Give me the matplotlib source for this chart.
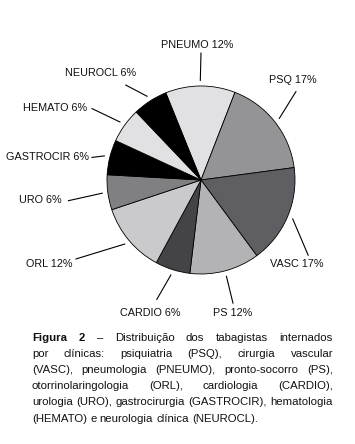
import numpy as np
import matplotlib.pyplot as plt
from matplotlib.transforms import IdentityTransform

# data, clockwise from the top
clinics = ["PNEUMO", "PSQ", "VASC", "PS", "CARDIO", "ORL", "URO", "GASTROCIR", "HEMATO", "NEUROCL"]
shares = [12, 17, 17, 12, 6, 12, 6, 6, 6, 6]
colors = ["#e1e1e3", "#949496", "#5f5f63", "#b3b3b5", "#444446",
          "#cacacc", "#808082", "#000000", "#e1e1e3", "#000000"]

# label layout (pie units: radius = 1)
label_pos = [(-0.04, 1.44), (0.98, 1.06), (1.02, -0.89), (0.34, -1.41), (-0.54, -1.41),
             (-1.61, -0.89), (-1.71, -0.21), (-1.63, 0.24), (-1.55, 0.77), (-1.07, 1.14)]
line_end = [(0.0, 1.35), (1.01, 0.94), (1.14, -0.80), (0.34, -1.31), (-0.47, -1.27),
            (-1.33, -0.84), (-1.41, -0.22), (-1.16, 0.24), (-1.16, 0.76), (-0.80, 1.01)]

caption = [
    "Figura 2 – Distribuição dos tabagistas internados",
    "por clínicas: psiquiatria (PSQ), cirurgia vascular",
    "(VASC), pneumologia (PNEUMO), pronto-socorro (PS),",
    "otorrinolaringologia (ORL), cardiologia (CARDIO),",
    "urologia (URO), gastrocirurgia (GASTROCIR), hematologia",
    "(HEMATO) e neurologia clínica (NEUROCL).",
]

W, H = 355, 444
cx, cy, R = 201, 180, 94
font = "Liberation Sans"

fig = plt.figure(figsize=(W / 100, H / 100), dpi=100)
ax = fig.add_axes([0, 0, 1, 1])

start = 112
wedges, _ = ax.pie(shares, colors=colors, startangle=start, counterclock=False, radius=1,
                   wedgeprops=dict(edgecolor="black", linewidth=0.6))
ax.set_aspect("auto")
ax.set_xlim(-cx / R, (W - cx) / R)
ax.set_ylim(-(H - cy) / R, cy / R)
ax.axis("off")

ends = np.cumsum(shares)
for i, name in enumerate(clinics):
    mid = np.deg2rad(start - (ends[i] - shares[i] / 2) * 3.6)
    x0, y0 = 1.06 * np.cos(mid), 1.06 * np.sin(mid)
    ax.plot([x0, line_end[i][0]], [y0, line_end[i][1]], color="black", lw=0.8)
    ax.text(*label_pos[i], "{} {}%".format(name, shares[i]), ha="center", va="center",
            fontsize=7.8, family=font, color="#111111")

# justified caption, placed word by word
x_left, x_right = 32, 333
base0, step = 444 - 341, 16.1
renderer = fig.canvas.get_renderer()
for n, line in enumerate(caption):
    words = line.split(" ")
    texts = []
    for k, w in enumerate(words):
        bold = n == 0 and k < 2
        t = fig.text(0, 0, w, transform=IdentityTransform(), fontsize=8.2, family=font,
                     fontweight="bold" if bold else "normal", va="baseline", color="#111111")
        texts.append(t)
    widths = [t.get_window_extent(renderer).width for t in texts]
    y = base0 - n * step
    if n < len(caption) - 1:
        gap = (x_right - x_left - sum(widths)) / (len(words) - 1)
    else:
        gap = renderer.points_to_pixels(8.2) * 0.28
    x = x_left
    for t, wd in zip(texts, widths):
        t.set_position((x, y))
        x += wd + gap

fig.savefig("out.png", dpi=100)
